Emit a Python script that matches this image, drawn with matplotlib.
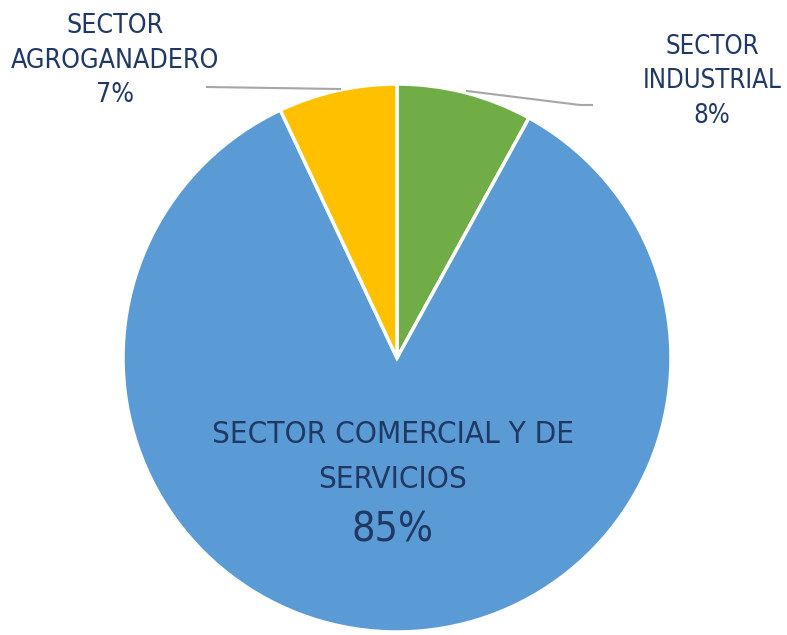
import matplotlib.pyplot as plt
from matplotlib import font_manager

# Datos del gráfico
sectores = ['SECTOR INDUSTRIAL', 'SECTOR COMERCIAL Y DE SERVICIOS', 'SECTOR AGROGANADERO']
porcentajes = [8, 85, 7]
colores = ['#70AD47', '#5B9BD5', '#FFC000']
color_texto = '#1F3864'

# Buscar una fuente estrecha (regular) si existe
fuentes = font_manager.fontManager.ttflist
estrecha = [f for f in fuentes
            if ('Narrow' in f.name or 'Condensed' in f.name or f.stretch == 'condensed')
            and f.weight in (400, 'normal', 'regular') and f.style == 'normal']
if estrecha:
    prop_base = font_manager.FontProperties(fname=estrecha[0].fname)
else:
    prop_base = font_manager.FontProperties(family='Roboto')

fig = plt.figure(figsize=(7.87, 6.35), dpi=100)
ax = fig.add_axes([0, 0, 1, 1])

cx, cy, r = 397, 277, 274
ax.pie(porcentajes, colors=colores, startangle=90, counterclock=False,
       center=(cx, cy), radius=r, frame=True,
       wedgeprops=dict(edgecolor='white', linewidth=2.5))
ax.set_xlim(0, 787)
ax.set_ylim(0, 635)
ax.set_aspect('equal')
ax.axis('off')

renderer = fig.canvas.get_renderer()


def bloque(x, lineas, bases, ancho):
    # una línea por texto; tamaño ajustado a la línea más ancha
    p = prop_base.copy()
    p.set_size(20)
    textos = [ax.text(x, 635 - b, s, ha='center', va='baseline', fontproperties=p,
                      color=color_texto) for s, b in zip(lineas, bases)]
    w = max(t.get_window_extent(renderer).width for t in textos)
    p.set_size(20 * ancho / w)
    for t in textos:
        t.set_fontproperties(p)


bloque(115, ['SECTOR', 'AGROGANADERO', f'{porcentajes[2]}%'], [33, 68, 102], 208)
bloque(712, ['SECTOR', 'INDUSTRIAL', f'{porcentajes[0]}%'], [54, 88, 123], 140)
bloque(393, ['SECTOR COMERCIAL Y DE', 'SERVICIOS'], [443, 488], 362)
bloque(393, [f'{porcentajes[1]}%'], [542], 82)

# Líneas guía
ax.plot([207, 340], [548, 546], color='#A6A6A6', lw=1.5)
ax.plot([467, 580, 592], [544, 530, 530], color='#A6A6A6', lw=1.5)

fig.savefig('out.png', dpi=100)
